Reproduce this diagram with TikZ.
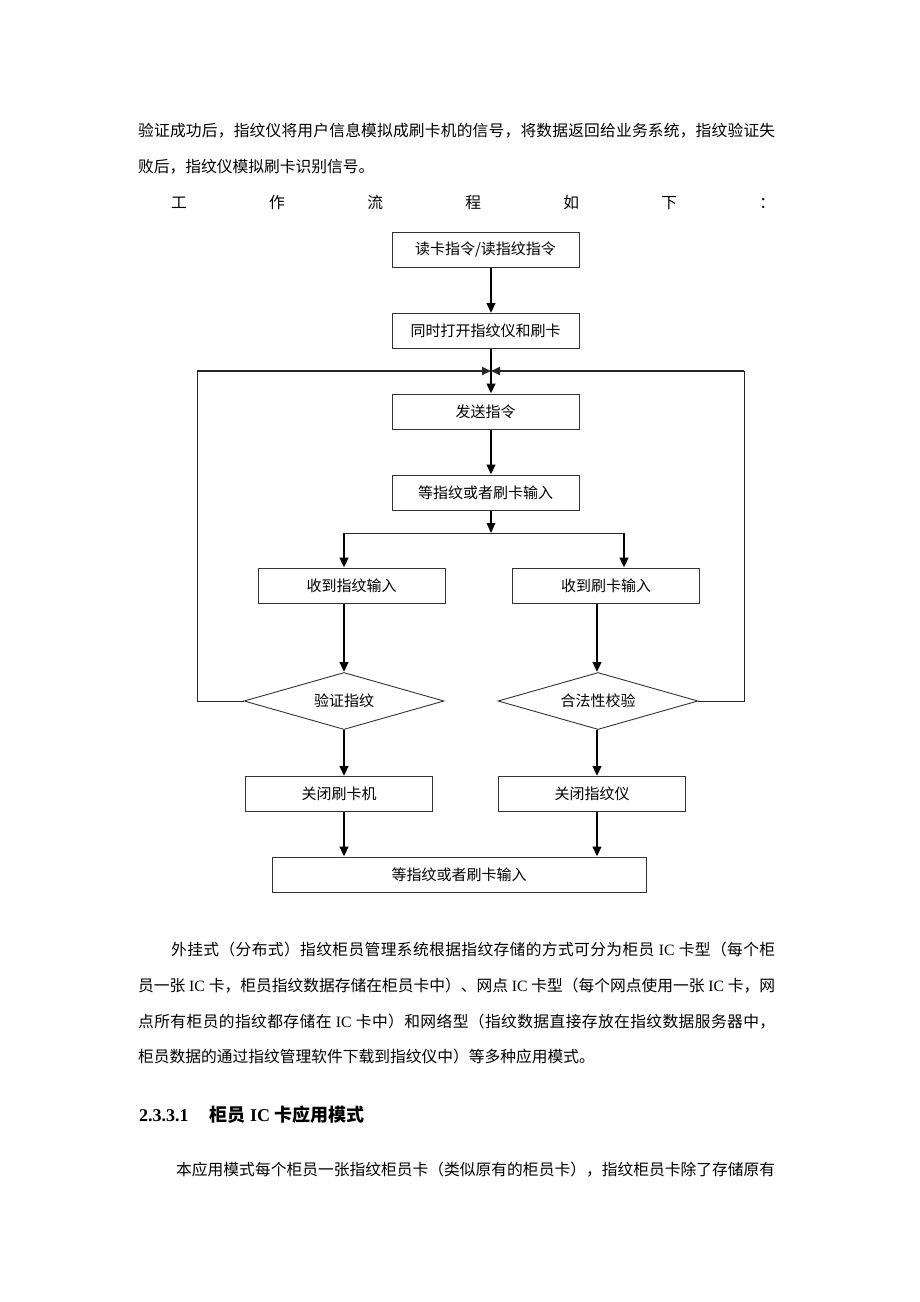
\documentclass[tikz,border=0pt]{standalone}
\usepackage{fontspec}
\setmainfont{Noto Sans CJK SC}
\newfontfamily\latin{Liberation Serif}
\usetikzlibrary{arrows.meta,shapes.geometric}

% spread the tokens of one line over a given width
\def\spreadstop{\spreadstop}
\def\spreadgobble#1{}
\def\spreadgo#1{#1\futurelet\spreadnext\spreadtest}
\def\spreadtest{\ifx\spreadnext\spreadstop\expandafter\spreadgobble\else\hfill\expandafter\spreadgo\fi}
\newcommand\spreadline[2]{\makebox[#1][s]{\spreadgo#2\spreadstop}}

\begin{document}
\begin{tikzpicture}[x=1pt,y=-1pt,
    box/.style={draw=black!80, line width=1pt, minimum width=187pt, minimum height=35pt, inner sep=0pt, font=\fontsize{15pt}{15pt}\selectfont},
    check/.style={diamond, aspect=3.5, draw=black!80, line width=0.9pt, minimum width=200pt, minimum height=57pt, inner sep=0pt, font=\fontsize{15pt}{15pt}\selectfont},
    flow/.style={line width=2.6pt, -{Triangle[length=10pt,width=8.5pt]}},
    back/.style={line width=1pt, draw=black!85},
    body/.style={anchor=west, inner sep=0pt, font=\fontsize{15.75pt}{16pt}\selectfont}]

  \fill[white] (0,0) rectangle (920,1302);
  \useasboundingbox (0,0) rectangle (920,1302);

  % text above the chart
  \node[body] (intro1) at (138,131) {\spreadline{637pt}{验证成功后，指纹仪将用户信息模拟成刷卡机的信号，将数据返回给业务系统，指纹验证失}};
  \node[body] (intro2) at (138,167) {败后，指纹仪模拟刷卡识别信号。};
  \node[body] (intro3) at (171,203) {\spreadline{604pt}{工作流程如下：}};

  % flow chart
  \node[box] (readcmd) at (485.5,249.5) {读卡指令/读指纹指令};
  \node[box] (openall) at (485.5,331) {同时打开指纹仪和刷卡};
  \node[box] (sendcmd) at (485.5,411.5) {发送指令};
  \node[box] (waitin) at (485.5,492.5) {等指纹或者刷卡输入};
  \node[box] (fpin) at (351.5,585.5) {收到指纹输入};
  \node[box] (cardin) at (606,585.5) {收到刷卡输入};
  \node[check] (fpcheck) at (344,701) {验证指纹};
  \node[check] (cardcheck) at (598,701) {合法性校验};
  \node[box] (closecard) at (339,794) {关闭刷卡机};
  \node[box] (closefp) at (592,794) {关闭指纹仪};
  \node[box, minimum width=374pt] (waitend) at (459,874.5) {等指纹或者刷卡输入};

  \coordinate (spine) at (491,0);
  \coordinate (join) at (491,371);
  \coordinate (fork) at (491,533);
  \coordinate (forkl) at (344,533);
  \coordinate (forkr) at (624,533);
  \coordinate (colr) at (597,0);
  \coordinate (loopl) at (197,371);
  \coordinate (loopr) at (744,371);

  \draw[flow] (readcmd.south -| spine) -- (openall.north -| spine);
  \draw[flow] (openall.south -| spine) -- (sendcmd.north -| spine);
  \draw[flow] (sendcmd.south -| spine) -- (waitin.north -| spine);
  \draw[flow, line width=1.6pt] (waitin.south -| spine) -- (fork);
  \draw[back] (forkl) -- (forkr);
  \draw[flow] (forkl) -- (fpin.north -| forkl);
  \draw[flow] (forkr) -- (cardin.north -| forkr);

  \draw[flow] (fpin.south -| forkl) -- (fpcheck.north);
  \draw[flow] (fpcheck.south) -- (closecard.north -| forkl);
  \draw[flow] (closecard.south -| forkl) -- (waitend.north -| forkl);
  \draw[flow] (cardin.south -| colr) -- (cardcheck.north -| colr);
  \draw[flow] (cardcheck.south -| colr) -- (closefp.north -| colr);
  \draw[flow] (closefp.south -| colr) -- (waitend.north -| colr);

  % back to sending
  \draw[back] (fpcheck.west) -| (loopl);
  \draw[back, line width=1.8pt, -{Triangle[length=9pt,width=8pt]}] (loopl) -- (join);
  \draw[back] (cardcheck.east) -| (loopr);
  \draw[back, line width=1.8pt, -{Triangle[length=9pt,width=8pt]}] (loopr) -- (join);

  % text below the chart
  \node[body] (para1) at (171,950) {\spreadline{604pt}{外挂式（分布式）指纹柜员管理系统根据指纹存储的方式可分为柜员{{\latin\ IC\ }}卡型（每个柜}};
  \node[body] (para2) at (138,986) {\spreadline{637pt}{员一张{{\latin\ IC\ }}卡，柜员指纹数据存储在柜员卡中）、网点{{\latin\ IC\ }}卡型（每个网点使用一张{{\latin\ IC\ }}卡，网}};
  \node[body] (para3) at (138,1022) {\spreadline{637pt}{点所有柜员的指纹都存储在{{\latin\ IC\ }}卡中）和网络型（指纹数据直接存放在指纹数据服务器中，}};
  \node[body] (para4) at (138,1057) {柜员数据的通过指纹管理软件下载到指纹仪中）等多种应用模式。};
  \node[body, font=\fontsize{18pt}{18pt}\selectfont\bfseries] (heading) at (139,1115) {{\latin 2.3.3.1}\hspace{21pt}柜员{\latin\ IC\ }卡应用模式};
  \node[body] (para5) at (176,1170) {\spreadline{599pt}{本应用模式每个柜员一张指纹柜员卡（类似原有的柜员卡），指纹柜员卡除了存储原有}};
\end{tikzpicture}
\end{document}
